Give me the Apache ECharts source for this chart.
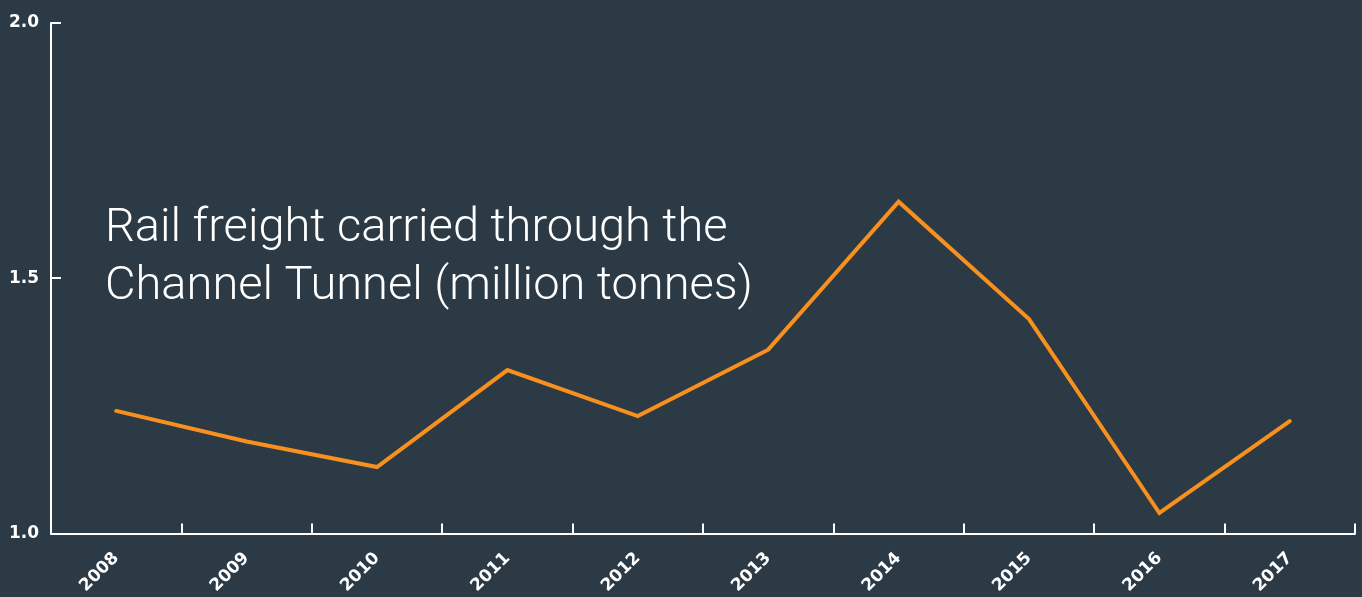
<!DOCTYPE html>
<html>
<head>
<meta charset="utf-8">
<script src="https://cdn.jsdelivr.net/npm/echarts@6/dist/echarts.min.js"></script>
<style>
html,body{margin:0;padding:0;background:#2b3a45;}
#c{width:1362px;height:597px;}
</style>
</head>
<body>
<div id="c"></div>
<script>
const years = ['2008','2009','2010','2011','2012','2013','2014','2015','2016','2017'];
const freight = [1.24, 1.18, 1.13, 1.32, 1.23, 1.36, 1.65, 1.42, 1.04, 1.22];
const titleText = 'Rail freight carried through the\nChannel Tunnel (million tonnes)';

const chart = echarts.init(document.getElementById('c'), null, {renderer:'canvas'});
chart.setOption({
  backgroundColor: '#2b3a45',
  animation: false,
  title: {
    text: titleText,
    left: 100,
    top: 195,
    textStyle: {color:'#ffffff', fontFamily:'Roboto', fontWeight:300, fontSize:47, lineHeight:58}
  },
  grid: {left:51, right:7, top:23, bottom:63, containLabel:false},
  xAxis: {
    type:'category',
    data: years,
    boundaryGap: true,
    axisLine: {lineStyle:{color:'#ffffff', width:2}},
    axisTick: {show:true, inside:true, length:10, lineStyle:{color:'#ffffff', width:2}},
    axisLabel: {color:'#ffffff', rotate:45, margin:22, fontFamily:'DejaVu Sans', fontWeight:'bold', fontSize:17}
  },
  yAxis: {
    type:'value',
    min:1.0, max:2.0, interval:0.5,
    splitLine:{show:false},
    axisLine: {show:true, lineStyle:{color:'#ffffff', width:2}},
    axisTick: {show:true, inside:true, length:10, lineStyle:{color:'#ffffff', width:2}},
    axisLabel: {color:'#ffffff', margin:12, fontFamily:'DejaVu Sans', fontWeight:'bold', fontSize:17,
      formatter: v => v.toFixed(1)}
  },
  series: [{
    type:'line',
    data: freight,
    symbol:'none',
    lineStyle:{color:'#f7901e', width:4, cap:'round', join:'miter'}
  }]
});
</script>
</body>
</html>
